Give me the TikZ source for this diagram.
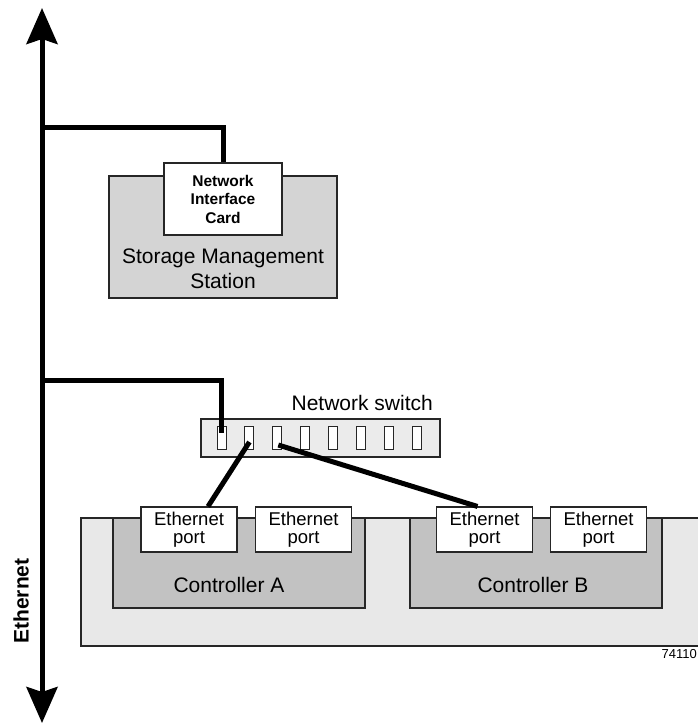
\documentclass[tikz,border=0pt]{standalone}
\usepackage{fontspec}
\setmainfont{Liberation Sans}
\usepackage{tikz}
\usetikzlibrary{positioning,arrows.meta}

\begin{document}
\begin{tikzpicture}[
  x=1pt,y=-1pt,
  every node/.style={inner sep=0pt},
  bus/.style={line width=5pt},
  frame/.style={draw=black!85,line width=1.1pt},
  station/.style={frame,fill=black!17,minimum width=228pt,minimum height=122pt},
  nic/.style={frame,fill=white,minimum width=118pt,minimum height=72pt,align=center,
    font=\fontsize{15.5}{18.5}\selectfont\bfseries},
  switchbox/.style={frame,fill=black!8,minimum width=239pt,minimum height=38pt},
  slot/.style={frame,line width=0.9pt,fill=white,minimum width=9pt,minimum height=23pt},
  ethport/.style={frame,fill=white,minimum width=96pt,minimum height=45pt,align=center,
    font=\fontsize{18.5}{18.5}\selectfont},
  label/.style={font=\fontsize{21}{25}\selectfont,align=center},
]
\useasboundingbox (0,0) rectangle (698,725);
% bus
\coordinate (bustop) at (42,8);
\coordinate (busbot) at (42,723);
\coordinate (tap1) at (42,127);
\coordinate (tap2) at (42,380);
\draw[bus,{Stealth[length=36pt,width=31pt,inset=5pt]}-{Stealth[length=36pt,width=31pt,inset=5pt]}]
  (busbot) -- (bustop);
\node[rotate=90,font=\fontsize{21}{25}\selectfont\bfseries] (buslabel) at (21,601) {Ethernet};
% management station
\node[station] (sms) at (223,237) {};
\node[nic] (nic) at (223,199) {Network\\Interface\\Card};
\node[label] (smslabel) at (223,269) {Storage Management\\Station};
% switch
\node[switchbox] (switch) at (320.5,438) {};
\foreach \i in {1,...,8}
  \node[slot] (p\i) at (221.5+27.9*\i-27.9,438) {};
\node[label,anchor=east] (switchlabel) at (433,403) {Network switch};
% storage array
\fill[black!9] (81,518) rectangle (720,646);
\draw[frame] (720,518) -- (81,518) -- (81,646) -- (720,646);
\node[frame,fill=black!24,minimum width=252pt,minimum height=90pt] (ctla) at (239,563) {};
\node[frame,fill=black!24,minimum width=252pt,minimum height=90pt] (ctlb) at (536,563) {};
\node[ethport] (ea1) at (189,529.5) {Ethernet\\port};
\node[ethport] (ea2) at (303.5,529.5) {Ethernet\\port};
\node[ethport] (eb1) at (484.5,529.5) {Ethernet\\port};
\node[ethport] (eb2) at (598.5,529.5) {Ethernet\\port};
\node[label] (ctlalabel) at (229,585) {Controller A};
\node[label] (ctlblabel) at (533,585) {Controller B};
\node[font=\fontsize{13}{15}\selectfont,anchor=east] (fignum) at (697,654) {74110};
% cables
\draw[bus] (tap1) -| (nic.north);
\draw[bus] (tap2) -| ([yshift=5pt]p1.center);
\draw[bus] ([yshift=-4pt]p2.center) -- ([xshift=19pt]ea1.north);
\draw[bus] ([xshift=1pt,yshift=-7pt]p3.center) -- ([xshift=-7pt]eb1.north);
\end{tikzpicture}
\end{document}
